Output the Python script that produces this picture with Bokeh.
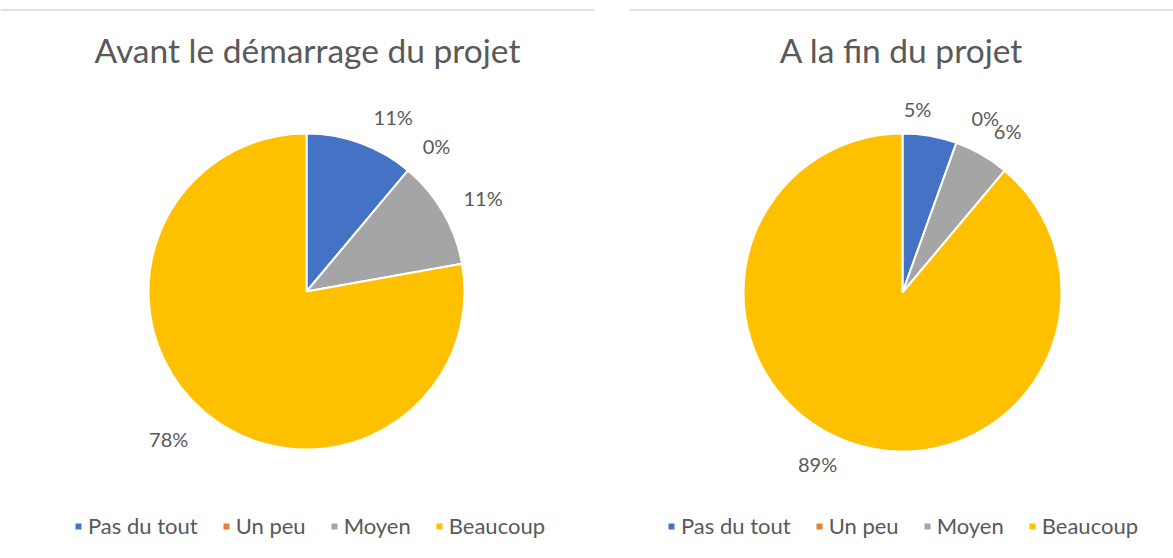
import math
from bokeh.plotting import figure
from bokeh.models import Range1d, ColumnDataSource, Legend, LegendItem, CDSView, IndexFilter
from bokeh.core.properties import value
from bokeh.embed import file_html
from bokeh.resources import INLINE

# ---- data ----
categories = ["Pas du tout", "Un peu", "Moyen", "Beaucoup"]
avant_values = [11.1, 0.0, 11.1, 77.8]
fin_values = [5.5, 0.0, 5.6, 88.9]
avant_labels = ["11%", "0%", "11%", "78%"]
fin_labels = ["5%", "0%", "6%", "89%"]
titles = ["Avant le démarrage du projet", "A la fin du projet"]

# ---- styles / layout ----
colors = ["#4472C4", "#ED7D31", "#A5A5A5", "#FFC000"]
FONT = "Lato"
TXT = "#595959"
W, H = 1173, 558

def fx(X):
    return X

def fy(Y):
    return H - Y

p = figure(width=W, height=H, x_range=Range1d(0, W), y_range=Range1d(0, H),
           x_axis_type=None, y_axis_type=None, toolbar_location=None,
           output_backend="svg", min_border=0, outline_line_color=None)
p.xgrid.visible = False
p.ygrid.visible = False

# top border lines of the two chart areas
p.segment(x0=[fx(0), fx(629)], y0=[fy(9.5), fy(9.5)], x1=[fx(594), fx(1173)], y1=[fy(9.5), fy(9.5)],
          line_color="#d9d9d9", line_width=1.5)

panels = [
    dict(vals=avant_values, labs=avant_labels, title=titles[0], cx=306, cy=291, r=158,
         lab_ang=[26.4, 41.8, 62.0, 223.0], lab_r=[195, 195, 200, 202],
         tx=307, leg_x=73),
    dict(vals=fin_values, labs=fin_labels, title=titles[1], cx=902, cy=292, r=159,
         lab_ang=[4.7, 25.4, 33.0, 206.4], lab_r=[184, 193, 193, 191],
         tx=901, leg_x=666),
]

for pan in panels:
    vals = pan["vals"]
    tot = sum(vals)
    starts, ends = [], []
    c = 0.0
    for v in vals:
        starts.append(math.pi / 2 - 2 * math.pi * c / tot)
        c += v
        ends.append(math.pi / 2 - 2 * math.pi * c / tot)
    src = ColumnDataSource(dict(cat=categories, val=vals, start=starts, end=ends, color=colors))
    # only slices with a non-zero share are drawn
    view = CDSView(filter=IndexFilter([i for i, v in enumerate(vals) if v > 0]))
    wedge_kw = dict(x=fx(pan["cx"]), y=fy(pan["cy"]), radius=pan["r"],
                    start_angle="start", end_angle="end", direction="clock",
                    fill_color="color", line_color="white", line_width=2, source=src)
    p.wedge(view=view, **wedge_kw)
    # hidden copy with every category, used only for the legend swatches
    proxy = p.wedge(visible=False, **wedge_kw)

    # data labels
    lx, ly = [], []
    for a, d in zip(pan["lab_ang"], pan["lab_r"]):
        rad = math.radians(a)
        lx.append(fx(pan["cx"]) + d * math.sin(rad))
        ly.append(fy(pan["cy"]) + d * math.cos(rad))
    p.text(x=lx, y=ly, text=pan["labs"], text_font=value(FONT), text_font_size="20px",
           text_color=TXT, text_align="center", text_baseline="middle")

    # title
    p.text(x=[fx(pan["tx"])], y=[fy(49)], text=[pan["title"]], text_font=value(FONT),
           text_font_size="33.5px", text_color=TXT, text_align="center",
           text_baseline="middle")

    items = [LegendItem(label=cat, renderers=[proxy], index=i) for i, cat in enumerate(categories)]
    leg = Legend(items=items, orientation="horizontal", location=(fx(pan["leg_x"]), fy(539)),
                 padding=0, margin=0, spacing=23, glyph_width=10, glyph_height=10,
                 label_standoff=5, label_text_font=FONT, label_text_font_size="22px",
                 label_text_color=TXT, border_line_color=None, background_fill_alpha=0,
                 label_height=10, inactive_fill_alpha=0)
    p.add_layout(leg, "center")

open("out.html", "w").write(file_html(p, INLINE))
